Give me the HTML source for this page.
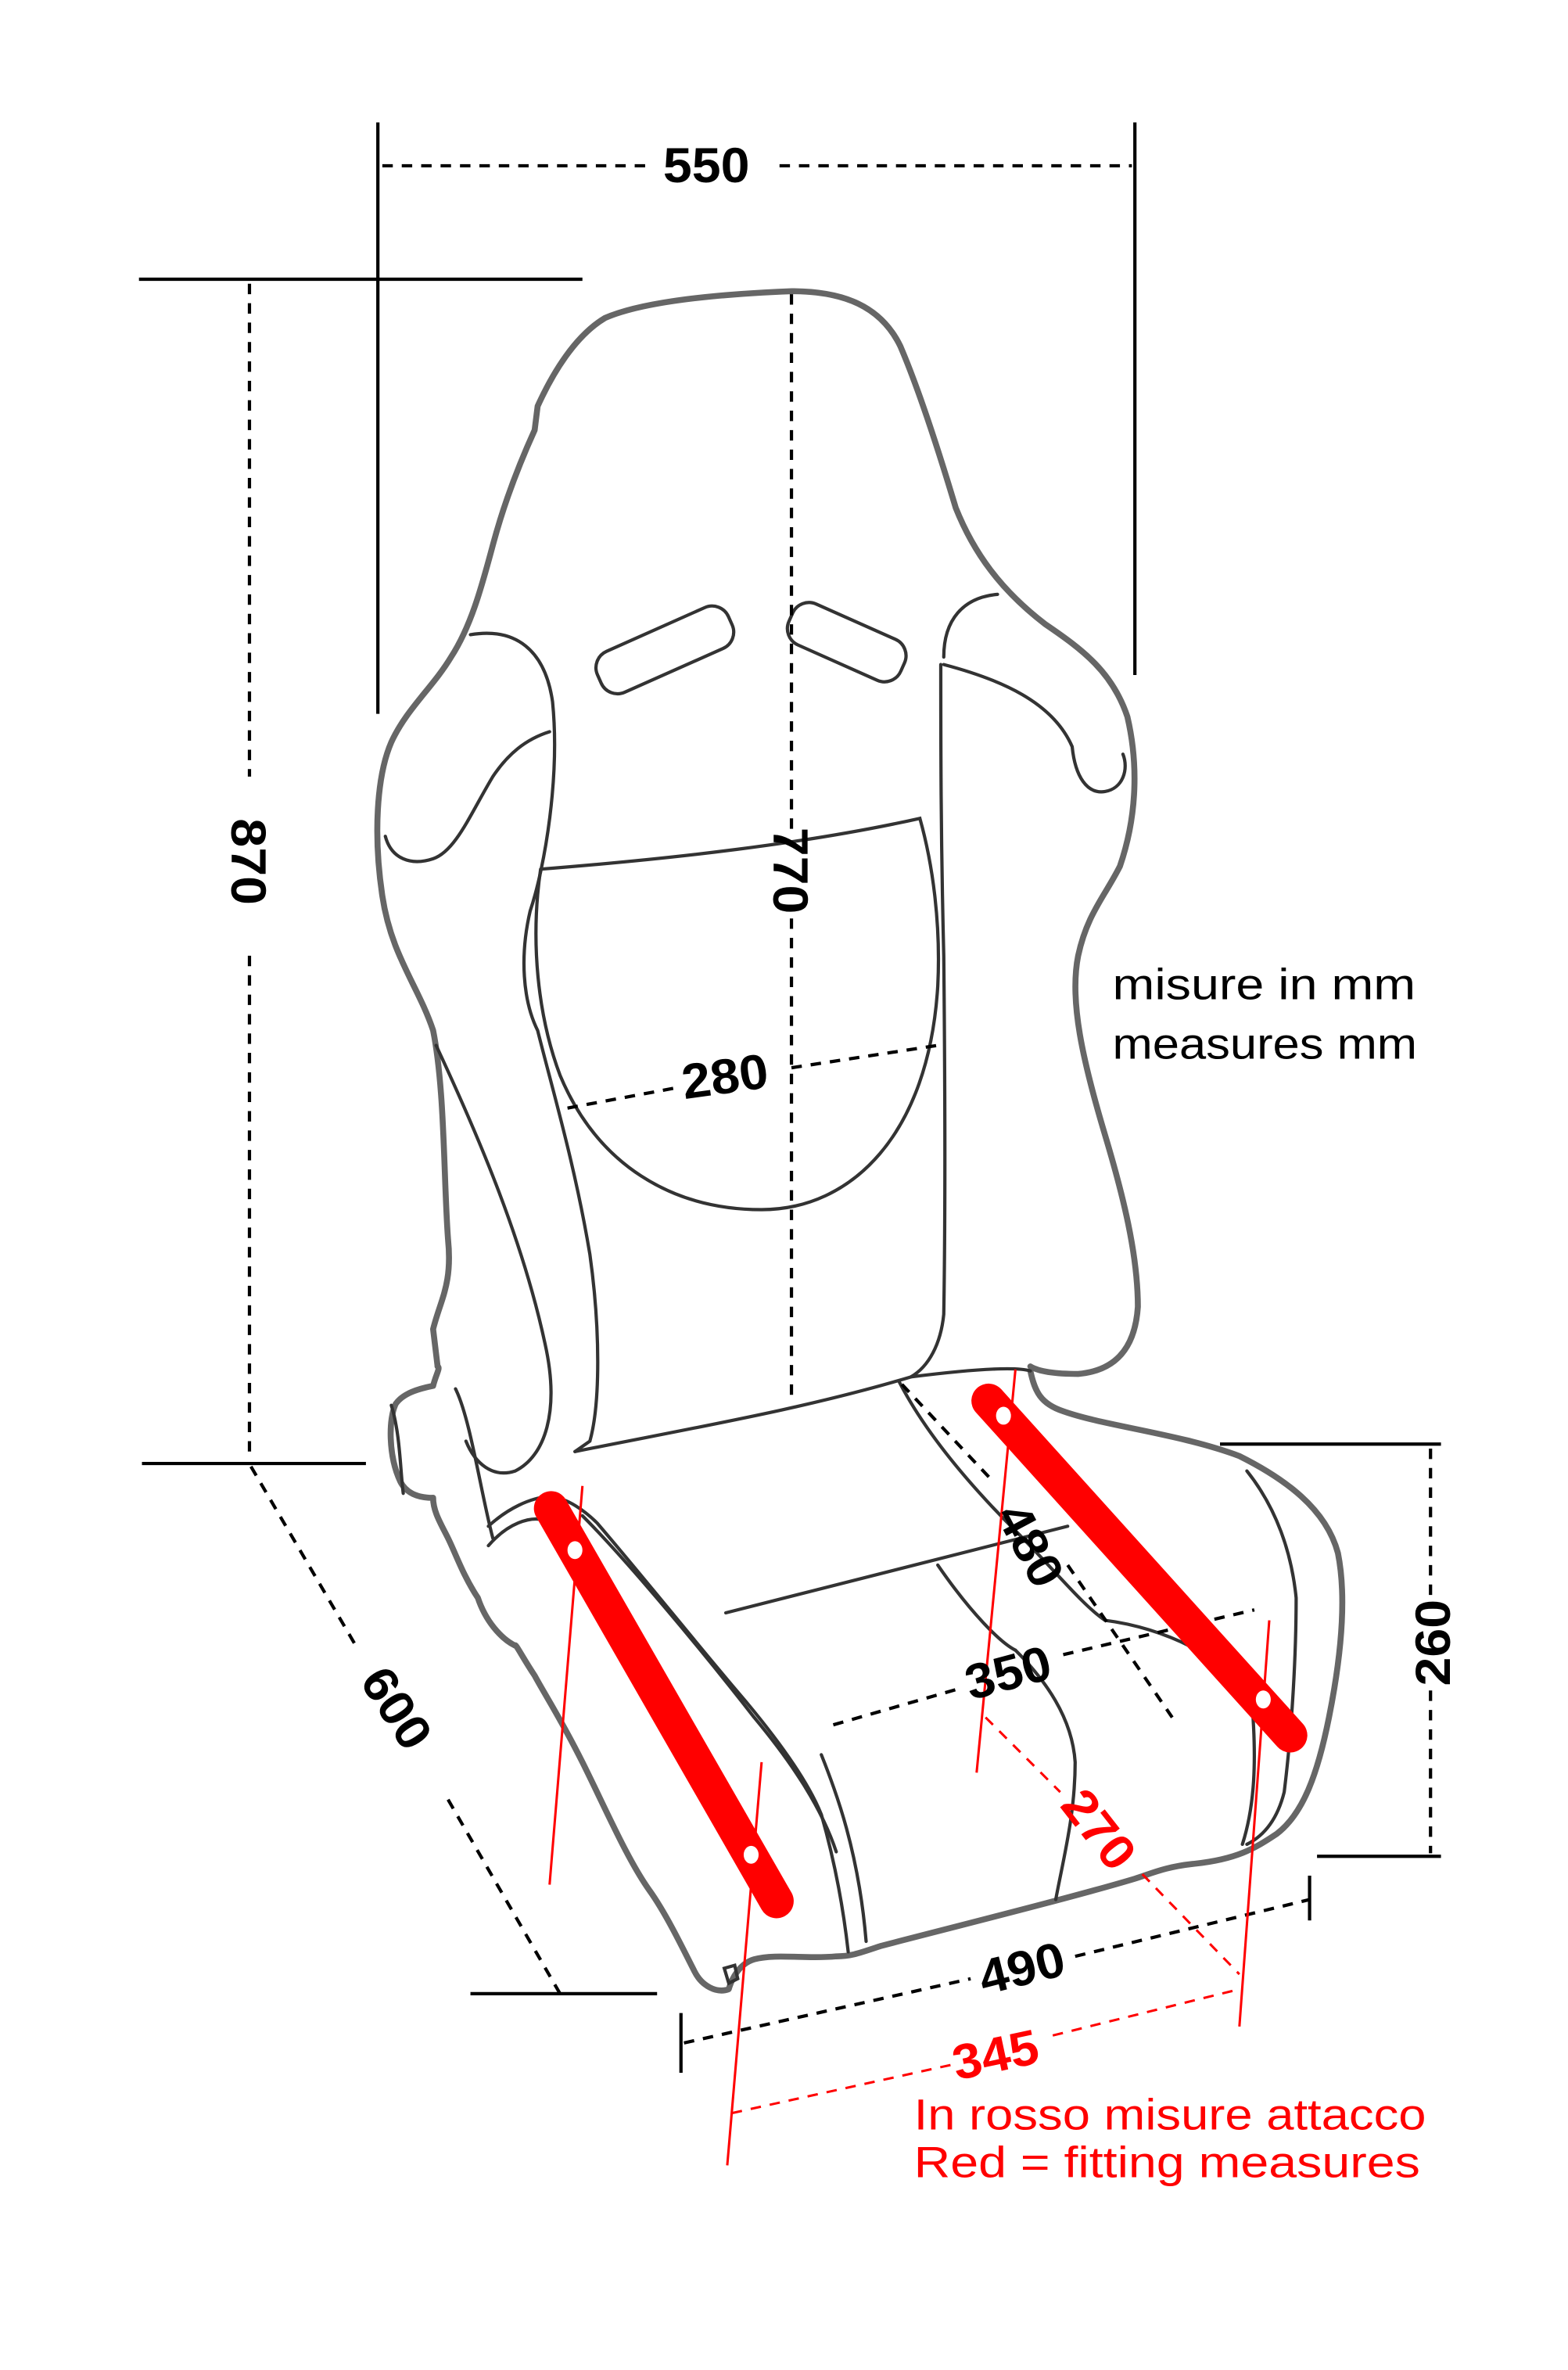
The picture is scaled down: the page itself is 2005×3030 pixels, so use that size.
<!DOCTYPE html>
<html><head><meta charset="utf-8"><style>
html,body{margin:0;padding:0;background:#fff}
svg{display:block}
text{font-family:"Liberation Sans",sans-serif}
</style></head><body>
<svg width="2005" height="3030" viewBox="0 0 1050 1587" xmlns="http://www.w3.org/2000/svg">
<rect width="1050" height="1587" fill="#fff"/>
<g fill="none" stroke="#666" stroke-width="4" stroke-linejoin="round" stroke-linecap="round">
<path d="M293,915 L290,890 C295,870 303,860 300,830 C297,790 298,730 290,690 C280,660 262,640 256,600 C250,560 252,520 262,497 C272,475 290,460 302,440 C315,420 322,395 330,365 C338,335 348,310 358,288 L360,272 C370,250 385,225 405,213 C430,202 480,197 530,195 C565,195 590,205 603,232 C615,260 628,300 640,340 C652,370 670,395 700,418 C725,435 745,450 755,480 C762,510 762,545 750,580 C740,600 728,612 722,640 C716,670 725,710 740,760 C752,800 762,840 762,875 C760,905 745,918 722,920 C705,920 695,918 690,915"/>
<path d="M690,918 C693,932 697,940 712,945 C740,955 790,960 830,975 C860,990 888,1010 896,1040 C902,1070 898,1110 890,1150 C882,1190 872,1215 855,1228 C840,1238 828,1245 800,1248 C780,1250 770,1255 760,1258 C720,1270 640,1290 590,1303 C575,1308 570,1310 560,1310 C540,1312 520,1308 505,1312 C495,1315 490,1325 488,1332 C480,1335 470,1330 465,1320 C455,1300 445,1280 435,1266 C420,1245 405,1210 390,1180 C375,1150 365,1135 358,1122 C350,1110 345,1100 345,1102 C335,1097 325,1085 320,1070 C310,1055 305,1040 300,1030 C295,1020 290,1012 290,1003"/>
<path d="M290,1003 C280,1003 272,1000 268,992 C260,975 260,950 265,940 C270,933 280,930 290,928 C292,920 295,916 293,915"/>
</g>
<g fill="none" stroke="#333" stroke-width="2.2" stroke-linecap="round">
<path d="M262,941 C268,960 268,985 270,1000"/>
<path d="M305,930 C315,950 322,1000 330,1030"/>
<path d="M315,425 C345,420 365,435 370,470 C375,520 365,580 355,610 C348,640 350,670 360,690 C370,730 385,780 395,840 C402,890 402,940 395,965 L385,972"/>
<path d="M258,560 C262,575 275,580 290,575 C305,570 315,545 330,520 C340,505 352,495 368,490"/>
<path d="M292,700 C320,760 350,830 365,900 C375,945 365,975 345,985 C330,990 318,980 312,965"/>
<path d="M362,582 C450,575 540,565 616,548 C625,580 630,620 628,660 C622,760 570,810 510,810 C450,810 400,780 375,720 C360,680 355,630 362,582"/>
<path d="M630,445 C630,500 630,560 632,640 C633,740 633,820 632,880 C630,900 622,915 610,922"/>
<path d="M632,440 C632,415 645,400 668,398"/>
<path d="M632,445 C670,455 705,470 718,500 C720,520 728,532 740,530 C752,528 756,515 752,505"/>
<path d="M385,972 C470,955 540,943 610,922 C650,917 680,915 690,918"/>
<path d="M327,1022 C340,1010 355,1003 368,1002 C380,1003 392,1012 400,1020 C430,1055 470,1105 500,1140 C525,1170 542,1195 550,1215 C560,1250 565,1280 568,1307"/>
<path d="M327,1035 C340,1020 355,1015 365,1018"/>
<path d="M390,1015 C420,1045 470,1105 505,1150 C530,1180 550,1210 560,1240"/>
<path d="M602,925 C620,960 650,995 680,1025 C705,1050 725,1075 740,1085"/>
<path d="M486,1080 L715,1022"/>
<path d="M628,1048 C650,1080 670,1100 680,1105"/>
<path d="M835,985 C855,1010 865,1040 868,1070 C868,1110 865,1160 860,1200 C855,1220 845,1230 835,1235"/>
<path d="M740,1085 C780,1090 820,1110 838,1135 C842,1180 840,1210 832,1235"/>
<path d="M680,1105 C700,1125 718,1150 720,1180 C720,1215 712,1245 707,1272"/>
<path d="M550,1175 C560,1200 575,1240 580,1300"/>
<rect x="398" y="420" width="96" height="30" rx="12" transform="rotate(-24 446 437)"/>
<rect x="526" y="415" width="82" height="30" rx="12" transform="rotate(24 567 430)"/>
<path d="M492,1316 L485,1318 L488,1328 L494,1325 Z"/>
</g>
<g stroke="#000" stroke-width="2.2" fill="none">
<line x1="253" y1="82" x2="253" y2="478"/>
<line x1="760" y1="82" x2="760" y2="452"/>
<line x1="93" y1="187" x2="390" y2="187"/>
<line x1="95" y1="980" x2="245" y2="980"/>
<line x1="315" y1="1335" x2="440" y2="1335"/>
<line x1="817" y1="967" x2="965" y2="967"/>
<line x1="882" y1="1243" x2="965" y2="1243"/>
<line x1="456" y1="1348" x2="456" y2="1388"/>
<line x1="877" y1="1256" x2="877" y2="1286"/>
<g stroke-dasharray="7,6">
<line x1="256" y1="111" x2="435" y2="111"/>
<line x1="522" y1="111" x2="758" y2="111"/>
<line x1="167" y1="190" x2="167" y2="520"/>
<line x1="167" y1="640" x2="167" y2="978"/>
<line x1="530" y1="197" x2="530" y2="555"/>
<line x1="530" y1="615" x2="530" y2="938"/>
<line x1="380" y1="742" x2="455" y2="728"/>
<line x1="530" y1="715" x2="628" y2="700"/>
<line x1="604" y1="927" x2="665" y2="992"/>
<line x1="715" y1="1048" x2="785" y2="1150"/>
<line x1="558" y1="1155" x2="645" y2="1130"/>
<line x1="712" y1="1108" x2="840" y2="1078"/>
<line x1="168" y1="982" x2="240" y2="1105"/>
<line x1="300" y1="1205" x2="375" y2="1335"/>
<line x1="958" y1="970" x2="958" y2="1070"/>
<line x1="958" y1="1132" x2="958" y2="1241"/>
<line x1="458" y1="1368" x2="650" y2="1325"/>
<line x1="720" y1="1310" x2="877" y2="1272"/>
</g>
</g>
<g stroke="#f00" fill="none">
<line x1="368" y1="1262" x2="390" y2="995" stroke-width="1.6"/>
<line x1="487" y1="1450" x2="510" y2="1180" stroke-width="1.6"/>
<line x1="654" y1="1187" x2="680" y2="917" stroke-width="1.6"/>
<line x1="830" y1="1357" x2="850" y2="1085" stroke-width="1.6"/>
<g stroke-dasharray="7,6" stroke-width="1.6">
<line x1="490" y1="1415" x2="640" y2="1382"/>
<line x1="705" y1="1363" x2="830" y2="1332"/>
<line x1="660" y1="1150" x2="710" y2="1200"/>
<line x1="765" y1="1255" x2="830" y2="1322"/>
</g>
<line x1="369" y1="1010" x2="520" y2="1273" stroke-width="23" stroke-linecap="round"/>
<line x1="662" y1="938" x2="864" y2="1162" stroke-width="23" stroke-linecap="round"/>
</g>
<g fill="#fff" stroke="none">
<ellipse cx="385" cy="1038" rx="5" ry="6"/>
<ellipse cx="503" cy="1242" rx="5" ry="6"/>
<ellipse cx="672" cy="948" rx="5" ry="6"/>
<ellipse cx="846" cy="1138" rx="5" ry="6"/>
</g>
<g font-weight="bold" font-size="33" fill="#000" text-anchor="middle">
<text x="473" y="122" textLength="58" lengthAdjust="spacingAndGlyphs">550</text>
<text transform="translate(155,577) rotate(90)" textLength="58" lengthAdjust="spacingAndGlyphs">870</text>
<text transform="translate(518,583) rotate(90)" textLength="58" lengthAdjust="spacingAndGlyphs">770</text>
<text transform="translate(487,732) rotate(-8)" textLength="58" lengthAdjust="spacingAndGlyphs">280</text>
<text transform="translate(680,1040) rotate(62)" textLength="58" lengthAdjust="spacingAndGlyphs">480</text>
<text transform="translate(678,1131) rotate(-15)" textLength="58" lengthAdjust="spacingAndGlyphs">350</text>
<text transform="translate(256,1150) rotate(57)" textLength="58" lengthAdjust="spacingAndGlyphs">600</text>
<text transform="translate(971,1100) rotate(-90)" textLength="58" lengthAdjust="spacingAndGlyphs">260</text>
<text transform="translate(687,1329) rotate(-14)" textLength="58" lengthAdjust="spacingAndGlyphs">490</text>
</g>
<g font-weight="bold" font-size="33" fill="#f00" text-anchor="middle">
<text transform="translate(727,1232) rotate(52)" textLength="58" lengthAdjust="spacingAndGlyphs">270</text>
<text transform="translate(669,1387) rotate(-12)" textLength="58" lengthAdjust="spacingAndGlyphs">345</text>
</g>
<g font-size="29" fill="#000">
<text x="745" y="669" textLength="203" lengthAdjust="spacingAndGlyphs">misure in mm</text>
<text x="745" y="709" textLength="204" lengthAdjust="spacingAndGlyphs">measures mm</text>
</g>
<g font-size="29" fill="#f00">
<text x="612" y="1426" textLength="343" lengthAdjust="spacingAndGlyphs">In rosso misure attacco</text>
<text x="612" y="1458" textLength="339" lengthAdjust="spacingAndGlyphs">Red = fitting measures</text>
</g>
</svg>
</body></html>
